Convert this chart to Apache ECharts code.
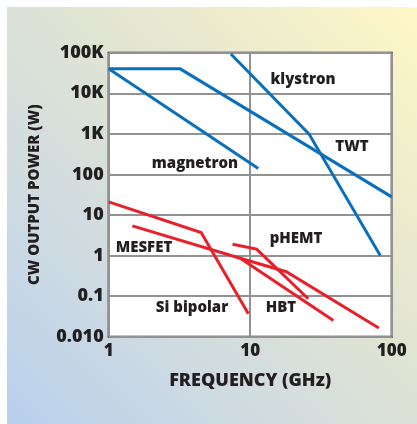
<!DOCTYPE html>
<html>
<head>
<meta charset="utf-8">
<script src="https://cdn.jsdelivr.net/npm/echarts@6/dist/echarts.min.js"></script>
<style>
  html, body { margin: 0; padding: 0; background: #ffffff; }
  #bg { position: absolute; left: 7px; top: 7px; width: 410px; height: 417px;
        background: linear-gradient(to top right, #b8d0ee 0%, #d3ddde 35%, #e2e5d2 60%, #fff7c6 100%); }
  #chart { position: absolute; left: 0; top: 0; width: 417px; height: 424px; }
</style>
</head>
<body>
<div id="bg"></div>
<div id="chart"></div>
<script>
// Tick labels
const yTickLabels = ['0.010', '0.1', '1', '10', '100', '1K', '10K', '100K']; // exponents -2..5
const xTickLabels = ['1', '10', '100']; // exponents 0..2

// Blue (tube) series: frequency (GHz) and CW power (W)
const twtX = [1, 3.2, 100];
const twtY = [40000, 40000, 28];
const magnetronX = [1, 11.4];
const magnetronY = [40000, 140];
const klystronX = [7.3, 26, 83];
const klystronY = [93000, 1000, 1];

// Red (solid-state) series
const siBipolarX = [1, 4.5, 9.7];
const siBipolarY = [21, 3.7, 0.037];
const mesfetX = [1.47, 8.5, 18, 81];
const mesfetY = [5.4, 0.86, 0.4, 0.0163];
const hbtX = [8.5, 38.7];
const hbtY = [0.86, 0.025];
const phemtX = [7.5, 11.1, 25.7];
const phemtY = [1.9, 1.44, 0.086];

const BLUE = '#0a6fbd';
const RED = '#e8202a';
const FONT = '"Open Sans"';
const W = 800;
const TXT = '#231f20';

function pts(xs, ys) { return xs.map((x, i) => [x, ys[i]]); }
function line(name, xs, ys, color) {
  return {
    name, type: 'line', data: pts(xs, ys), symbol: 'none', silent: true,
    lineStyle: { color, width: 3, cap: 'butt', join: 'miter' }, z: 3
  };
}

const chart = echarts.init(document.getElementById('chart'), null, { renderer: 'canvas' });
const label = (text, x, y) => ({
  type: 'text', x, y, z: 100,
  style: { text, font: W + ' 15px ' + FONT, fill: TXT, align: 'center', verticalAlign: 'middle' }
});

chart.setOption({
  backgroundColor: 'transparent',
  animation: false,
  grid: { left: 108.7, top: 52.7, right: 25.3, bottom: 87.3, show: true,
          backgroundColor: '#ffffff', borderColor: '#1a1a1a', borderWidth: 2, z: 0 },
  xAxis: {
    type: 'log', logBase: 10, min: 1, max: 100, interval: 1,
    name: 'FREQUENCY (GHz)', nameLocation: 'middle', nameGap: 35,
    nameTextStyle: { fontFamily: FONT, fontWeight: W, fontSize: 18, color: TXT },
    axisLine: { show: false }, axisTick: { show: false },
    axisLabel: { margin: 6, fontFamily: FONT, fontWeight: W, fontSize: 17, color: TXT,
                 formatter: v => xTickLabels[Math.round(Math.log10(v))] || '' },
    splitLine: { show: true, lineStyle: { color: '#929292', width: 2 } }
  },
  yAxis: {
    type: 'log', logBase: 10, min: 0.01, max: 100000, interval: 1,
    name: 'CW OUTPUT POWER (W)', nameLocation: 'middle', nameGap: 66, nameRotate: 90,
    nameTextStyle: { fontFamily: FONT, fontWeight: W, fontSize: 15, color: TXT },
    axisLine: { show: false }, axisTick: { show: false },
    axisLabel: { margin: 5, fontFamily: FONT, fontWeight: W, fontSize: 18, color: TXT,
                 formatter: v => yTickLabels[Math.round(Math.log10(v)) + 2] || '' },
    splitLine: { show: true, lineStyle: { color: '#929292', width: 2 } }
  },
  series: [
    line('TWT', twtX, twtY, BLUE),
    line('magnetron', magnetronX, magnetronY, BLUE),
    line('klystron', klystronX, klystronY, BLUE),
    line('Si bipolar', siBipolarX, siBipolarY, RED),
    line('MESFET', mesfetX, mesfetY, RED),
    line('HBT', hbtX, hbtY, RED),
    line('pHEMT', phemtX, phemtY, RED)
  ],
  graphic: [
    label('klystron', 303, 80),
    label('TWT', 352, 147),
    label('magnetron', 195, 164),
    label('MESFET', 144, 248),
    label('pHEMT', 296, 239),
    label('Si bipolar', 192, 308),
    label('HBT', 281, 308)
  ]
});
</script>
</body>
</html>
